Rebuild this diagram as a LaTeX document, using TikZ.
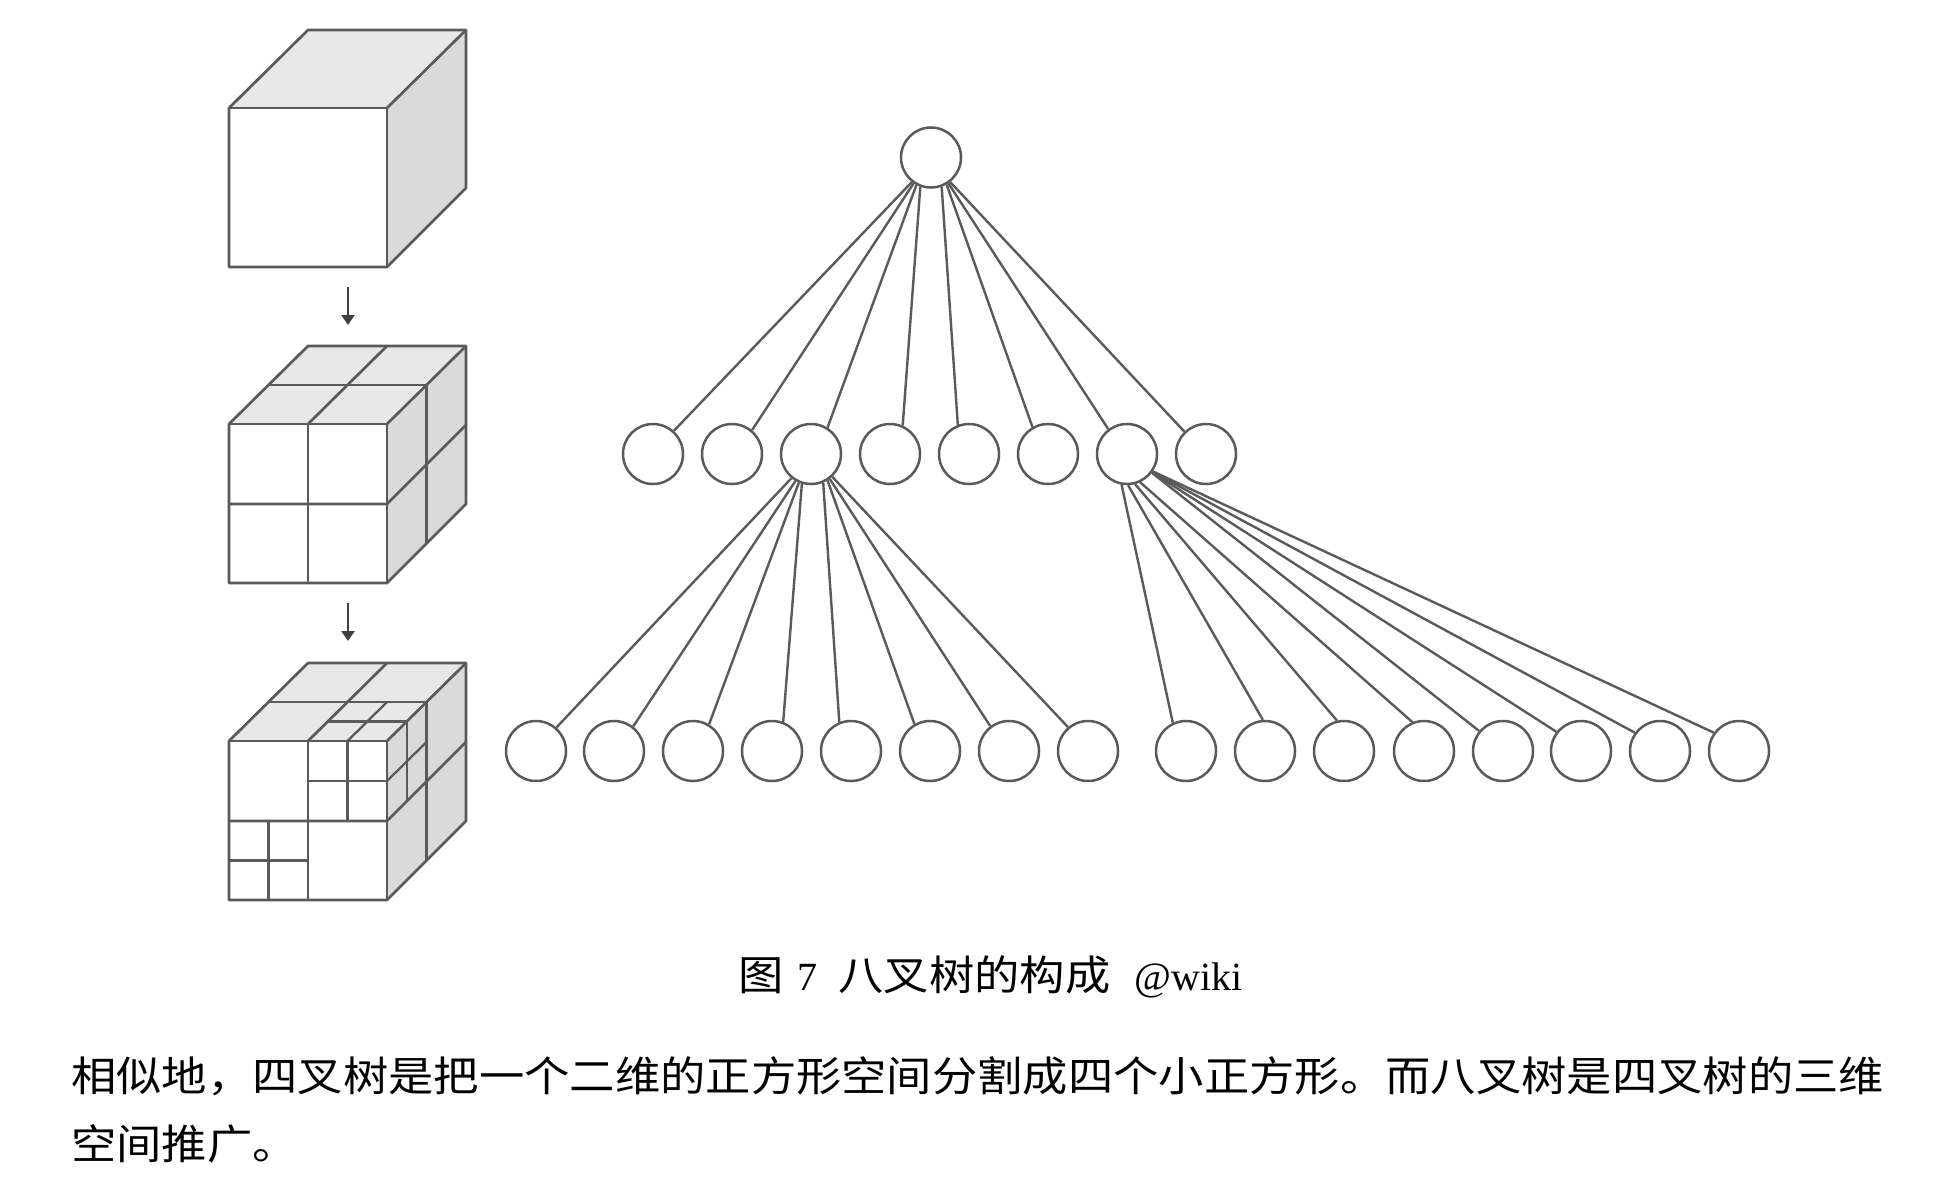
\documentclass[tikz,border=0pt]{standalone}
\usepackage{fontspec}
\setmainfont{Liberation Serif}
\newfontfamily\cjk[FakeStretch=1.1]{Noto Sans CJK SC}
\usetikzlibrary{arrows.meta}
\definecolor{edgegray}{HTML}{5A5A5A}
\definecolor{topface}{HTML}{E8E8E8}
\definecolor{sideface}{HTML}{DADADA}
\tikzset{
  cubeline/.style={draw=edgegray,line width=2.7pt,line join=round},
  thincut/.style={draw=edgegray,line width=2.3pt},
  treenode/.style={circle,draw=edgegray,line width=2.5pt,fill=white,minimum size=60pt,inner sep=0pt},
  treeedge/.style={draw=edgegray,line width=2.4pt},
  stepdown/.style={draw=black!75,line width=2.4pt,-{Triangle[length=10pt,width=13pt]}},
  bodytext/.style={anchor=base west,inner sep=0pt,text=black,font=\fontsize{41.2}{50}\selectfont\cjk}
}
\newcommand{\basecube}{%
  \fill[topface] (229,78) -- (308,0) -- (466,0) -- (387,78) -- cycle;
  \fill[sideface] (387,78) -- (466,0) -- (466,158) -- (387,237) -- cycle;
  \draw[cubeline] (229,78) -- (308,0) -- (466,0) -- (466,158) -- (387,237) -- (229,237) -- cycle;
  \draw[cubeline] (229,78) -- (387,78) -- (387,237);
  \draw[cubeline] (387,78) -- (466,0);
}
\newcommand{\halfcuts}{%
  \draw[cubeline] (308,78) -- (308,237);
  \draw[cubeline] (229,158) -- (387,158) -- (466,79);
  \draw[cubeline] (308,78) -- (387,0);
  \draw[cubeline] (268.5,39) -- (426.5,39) -- (426.5,198);
}
\begin{document}
\begin{tikzpicture}[x=1pt,y=-1pt]
\useasboundingbox[fill=white] (0,0) rectangle (1945,1196);
% cubes
\begin{scope}[shift={(0,30)}]
  \basecube
\end{scope}
\begin{scope}[shift={(0,346)}]
  \basecube
  \halfcuts
\end{scope}
\begin{scope}[shift={(0,663)}]
  \basecube
  \halfcuts
  % front subdivisions
  \draw[thincut] (347.5,78) -- (347.5,158);
  \draw[thincut] (308,118) -- (387,118);
  \draw[thincut] (268.5,158) -- (268.5,237);
  \draw[thincut] (229,197.5) -- (308,197.5);
  % top subdivisions
  \draw[thincut] (327.75,58.5) -- (406.75,58.5);
  \draw[thincut] (347.5,78) -- (387,39);
  % side subdivisions
  \draw[thincut] (406.75,58.5) -- (406.75,137.5);
  \draw[thincut] (387,118) -- (426.5,79);
\end{scope}
% arrows between cubes
\coordinate (a1s) at (348,287);
\coordinate (a1e) at (348,325);
\coordinate (a2s) at (348,603);
\coordinate (a2e) at (348,641);
\draw[stepdown] (a1s) -- (a1e);
\draw[stepdown] (a2s) -- (a2e);
% tree nodes
\node[treenode] (root) at (931,157.5) {};
\foreach \n/\x in {1/653,2/732,3/811,4/890,5/969,6/1048,7/1127,8/1206}
  \node[treenode] (b\n) at (\x,454) {};
\foreach \n/\x in {1/536,2/614,3/693,4/772,5/851,6/930,7/1009,8/1088}
  \node[treenode] (c\n) at (\x,751) {};
\foreach \n/\x in {1/1186,2/1265,3/1344,4/1424,5/1503,6/1581,7/1660,8/1739}
  \node[treenode] (d\n) at (\x,751) {};
% edges
\foreach \n/\s/\e in {1/232/48,2/236/50,3/242/58,4/250/66,5/290/111,6/300/120,7/304/127,8/308/134}
  \draw[treeedge] (root.\s) -- (b\n.\e);
\foreach \n/\s/\e in {1/231/49,2/240/52,3/247/59,4/253/69,5/293/112,6/302/120,7/307/127,8/313/130}
  \draw[treeedge] (b3.\s) -- (c\n.\e);
\foreach \n/\s/\e in {1/260/115,2/272/94,3/285/103,4/295/112,5/323/140,6/324/142,7/325/144,8/326/144}
  \draw[treeedge] (b7.\s) -- (d\n.\e);
% texts
\node[bodytext] (cap) at (738,990) {图\hspace{14pt}{\fontsize{40}{45}\selectfont\rmfamily 7}\hspace{21pt}八叉树的构成\hspace{24pt}{\fontsize{40}{45}\selectfont\rmfamily @wiki}};
\node[bodytext] (l1) at (71,1091) {相似地，四叉树是把一个二维的正方形空间分割成四个小正方形。而八叉树是四叉树的三维};
\node[bodytext] (l2) at (71,1159) {空间推广。};
\end{tikzpicture}
\end{document}
